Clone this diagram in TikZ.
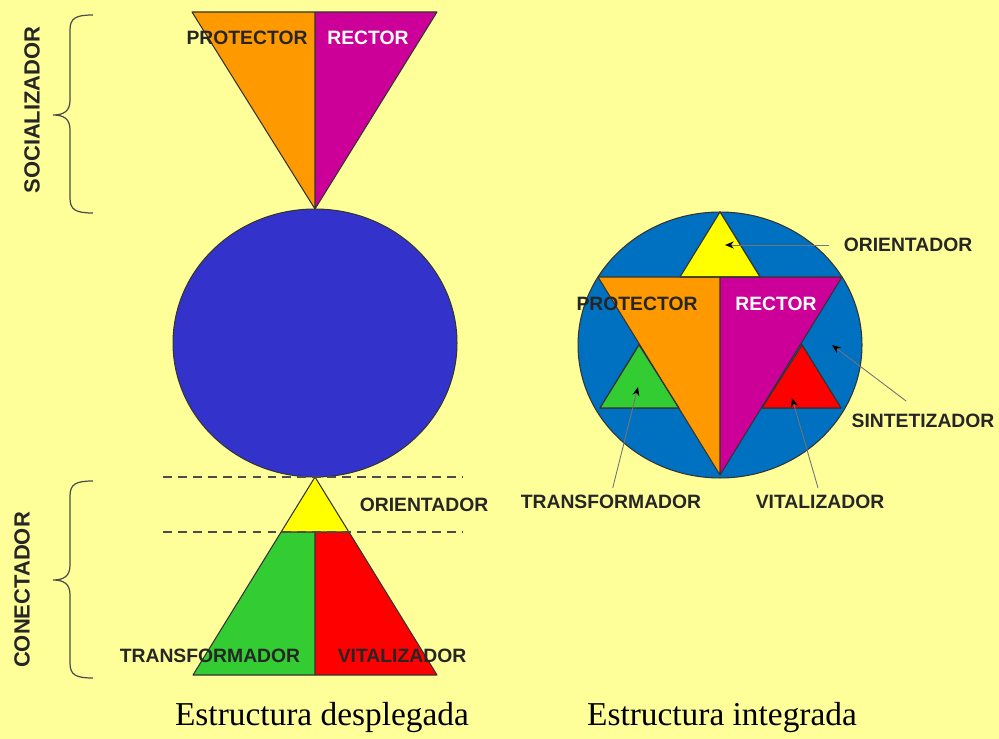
\documentclass[tikz,border=0pt]{standalone}
\usepackage{fontspec}
\setmainfont{Liberation Serif}
\setsansfont{Liberation Sans}
\usepackage{tikz}
\usetikzlibrary{positioning}
\usetikzlibrary{arrows.meta}

\definecolor{fondo}{RGB}{255,255,153}
\definecolor{naranja}{RGB}{255,153,0}
\definecolor{rosa}{RGB}{204,0,153}
\definecolor{azulosc}{RGB}{51,51,204}
\definecolor{azulcla}{RGB}{0,112,192}
\definecolor{verde}{RGB}{51,204,51}
\definecolor{rojo}{RGB}{255,0,0}
\definecolor{amarillo}{RGB}{255,255,0}

\tikzset{
  etiqueta/.style={font=\sffamily\bfseries\fontsize{11}{13}\selectfont, text=black!85, inner sep=0pt},
  lateral/.style={font=\sffamily\bfseries\fontsize{12.5}{14}\selectfont, text=black!85, inner sep=0pt, rotate=90},
  titulo/.style={font=\fontsize{19}{22}\selectfont, inner sep=0pt},
  borde/.style={draw=black!80, line width=0.6pt, line join=round},
  guion/.style={draw=black!70, line width=1.4pt, dash pattern=on 5pt off 3.5pt},
  llave/.style={draw=black!70, line width=0.7pt},
  flecha/.style={draw=black!55, line width=0.5pt, -{Stealth[black, length=5pt, width=4pt]}}
}

\begin{document}
\begin{tikzpicture}[x=0.02cm, y=-0.02cm]

% Background
\fill[fondo] (0,0) rectangle (999,739);
\useasboundingbox (0,0) rectangle (999,739);

%%% Estructura desplegada

% Draw top triangle
\fill[naranja] (192,12) -- (315,12) -- (315,209) -- cycle;
\fill[rosa] (315,12) -- (437,12) -- (315,209) -- cycle;
\draw[borde] (192,12) -- (437,12) -- (315,209) -- cycle (315,12) -- (315,209);
\node[etiqueta] (protA) at (247,38) {PROTECTOR};
\node[etiqueta, text=white] (rectA) at (368,38) {RECTOR};

% Draw circle
\draw[borde, fill=azulosc] (315,343) ellipse [x radius=2.84cm, y radius=2.68cm];

% Draw bottom triangle
\fill[amarillo] (315,477) -- (349,532) -- (281,532) -- cycle;
\fill[verde] (281,532) -- (315,532) -- (315,675) -- (193,675) -- cycle;
\fill[rojo] (315,532) -- (349,532) -- (437,675) -- (315,675) -- cycle;
\draw[borde] (315,477) -- (437,675) -- (193,675) -- cycle
  (281,532) -- (349,532) (315,532) -- (315,675);
\draw[guion] (163,477) -- (462,477);
\draw[guion] (163,532) -- (462,532);
\node[etiqueta] (orientA) at (424,505) {ORIENTADOR};
\node[etiqueta] (transA) at (210,656) {TRANSFORMADOR};
\node[etiqueta] (vitalA) at (402,656) {VITALIZADOR};

% Braces
\draw[llave] (93,15) .. controls (76,15) and (70,18) .. (70,30) -- (70,100)
  .. controls (70,111) and (64,115) .. (53,115)
  .. controls (64,115) and (70,119) .. (70,130) -- (70,198)
  .. controls (70,210) and (76,213) .. (93,213);
\node[lateral] (social) at (32,110) {SOCIALIZADOR};
\draw[llave] (93,481) .. controls (76,481) and (70,484) .. (70,496) -- (70,565)
  .. controls (70,576) and (64,580) .. (53,580)
  .. controls (64,580) and (70,584) .. (70,595) -- (70,663)
  .. controls (70,675) and (76,678) .. (93,678);
\node[lateral] (conect) at (22,590) {CONECTADOR};

%%% Estructura integrada

% Draw circle and star
\draw[borde, fill=azulcla] (720,345) ellipse [x radius=2.84cm, y radius=2.66cm];
\draw[borde] (720,212) -- (841,408) -- (600,408) -- cycle;
\fill[naranja] (598,277) -- (720,277) -- (720,475) -- cycle;
\fill[rosa] (720,277) -- (842,277) -- (720,475) -- cycle;
\draw[borde, fill=amarillo] (720,212) -- (760,277) -- (680,277) -- cycle;
\draw[borde, fill=verde] (639,345) -- (679,408) -- (600,408) -- cycle;
\draw[borde, fill=rojo] (802,345) -- (841,408) -- (762,408) -- cycle;
\draw[borde] (598,277) -- (842,277) -- (720,475) -- cycle (720,277) -- (720,475);
\node[etiqueta] (protB) at (637,304) {PROTECTOR};
\node[etiqueta, text=white] (rectB) at (776,304) {RECTOR};

% Labels and arrows
\node[etiqueta] (orientB) at (908,245) {ORIENTADOR};
\node[etiqueta] (sintB) at (923,421) {SINTETIZADOR};
\node[etiqueta] (transB) at (611,502) {TRANSFORMADOR};
\node[etiqueta] (vitalB) at (820,502) {VITALIZADOR};
\coordinate (pOrient) at (725,245);
\coordinate (pSint) at (832,345);
\coordinate (pTrans) at (638,387);
\coordinate (pVital) at (792,398);
\draw[flecha, shorten <=8pt] (orientB.west) -- (pOrient);
\draw[flecha, shorten <=12pt] (sintB.north) -- (pSint);
\draw[flecha, shorten <=4pt] (transB.north) -- (pTrans);
\draw[flecha, shorten <=4pt] (vitalB.north) -- (pVital);

% Titles
\node[titulo] (titA) at (322,718) {Estructura desplegada};
\node[titulo] (titB) at (722,718) {Estructura integrada};

\end{tikzpicture}
\end{document}
